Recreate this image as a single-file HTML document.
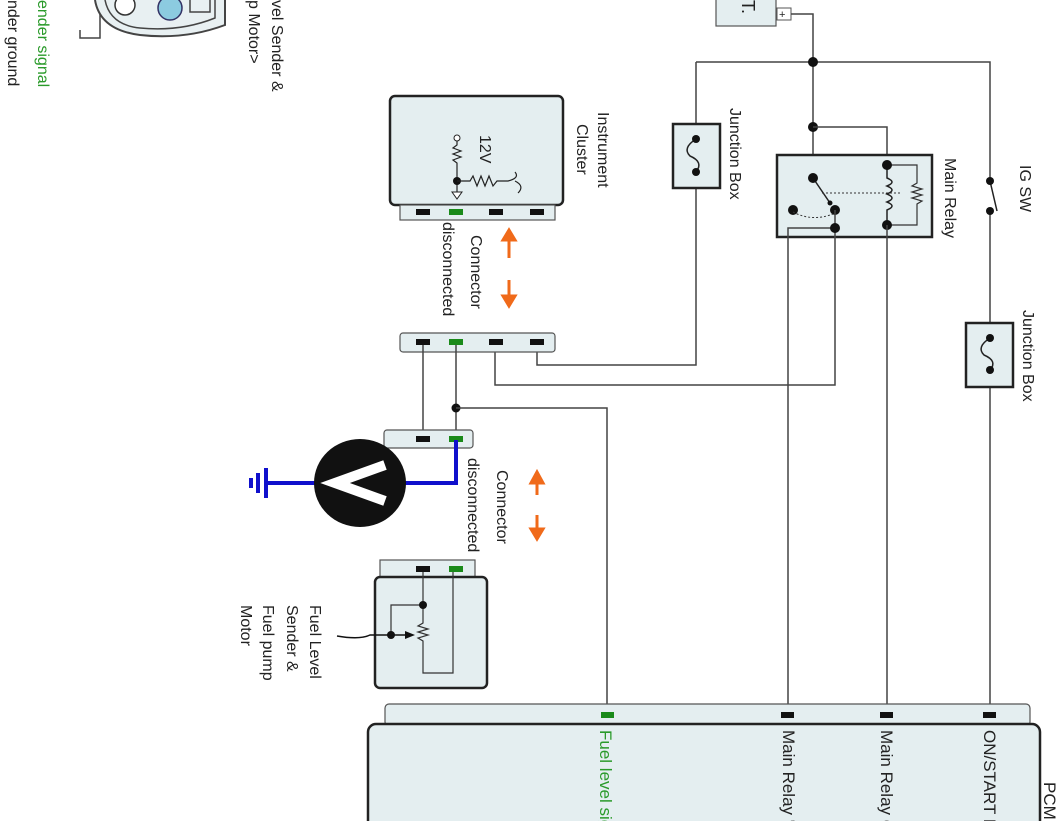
<!DOCTYPE html>
<html><head><meta charset="utf-8"><style>
html,body{margin:0;padding:0;background:#fff;}
svg{display:block;font-family:"Liberation Sans",sans-serif;}
</style></head><body>
<svg width="1062" height="821" viewBox="0 0 1062 821" xmlns="http://www.w3.org/2000/svg">
<defs>
<style>
.w{stroke:#444;stroke-width:1.5;fill:none}
.box{fill:#e4eef0;stroke:#222;stroke-width:2.5}
.strip{fill:#e4eef0;stroke:#555;stroke-width:1.2}
.t{font-size:16px;fill:#222}
.p{font-size:17px;fill:#222}
</style>
</defs>

<!-- top-left connector picture -->
<path d="M80,30 L80,38 L100,38 L100,0" class="w" stroke="#555"/>
<path d="M95,0 Q100,30 140,35 Q185,40 225,25 L225,0" fill="#e8f0f2" stroke="#444" stroke-width="2"/>
<path d="M105,0 Q110,25 140,28 Q180,32 215,18 L215,0" fill="none" stroke="#444" stroke-width="1.5"/>
<circle cx="125" cy="5" r="10" fill="#fff" stroke="#333" stroke-width="1.5"/>
<circle cx="170" cy="8" r="12" fill="#8ccbe0" stroke="#336" stroke-width="1.5"/>
<path d="M190,0 L190,12 L210,12 L210,0" fill="none" stroke="#444" stroke-width="1.5"/>
<text transform="translate(38,0) rotate(90)" font-size="16" fill="#2a9a2a">ender signal</text>
<text transform="translate(8,0) rotate(90)" class="t">nder ground</text>
<text transform="translate(272,0) rotate(90)" class="t">vel Sender &amp;</text>
<text transform="translate(249,0) rotate(90)" class="t">p Motor&gt;</text>

<!-- battery -->
<rect x="716" y="-5" width="60" height="31" class="strip" stroke="#666"/>
<text transform="translate(742,0) rotate(90)" font-size="18" fill="#222">T.</text>
<rect x="777" y="8" width="14" height="12" fill="#fff" stroke="#555" stroke-width="1"/>
<text x="779" y="18" font-size="11" fill="#222">+</text>
<path d="M791,14 L813,14 L813,178" class="w"/>

<!-- top horizontal bus -->
<path d="M696,62 L990,62 L990,181" class="w"/>
<path d="M990,211 L990,715" class="w"/>
<line x1="990" y1="181" x2="997" y2="211" stroke="#222" stroke-width="1.5"/>
<circle cx="990" cy="181" r="4" fill="#111"/>
<circle cx="990" cy="211" r="4" fill="#111"/>
<text transform="translate(1020,165) rotate(90)" class="t">IG SW</text>

<circle cx="813" cy="62" r="5" fill="#111"/>
<circle cx="813" cy="127" r="5" fill="#111"/>
<path d="M813,127 L887,127 L887,165" class="w"/>

<!-- left junction box -->
<path d="M696,62 L696,365 L537,365 L537,345" class="w"/>
<rect x="673" y="124" width="47" height="64" class="box" stroke-width="2"/>
<path d="M696,139 Q682,148 690,156 Q704,162 696,172" fill="none" stroke="#222" stroke-width="1.5"/>
<circle cx="696" cy="139" r="4" fill="#111"/>
<circle cx="696" cy="172" r="4" fill="#111"/>
<text transform="translate(730,108) rotate(90)" class="t">Junction Box</text>

<!-- right junction box -->
<rect x="966" y="323" width="47" height="64" class="box" stroke-width="2"/>
<path d="M990,338 Q976,347 984,355 Q998,361 990,370" fill="none" stroke="#222" stroke-width="1.5"/>
<circle cx="990" cy="338" r="4" fill="#111"/>
<circle cx="990" cy="370" r="4" fill="#111"/>
<text transform="translate(1023,310) rotate(90)" class="t">Junction Box</text>

<!-- main relay -->
<rect x="777" y="155" width="155" height="82" class="box"/>
<text transform="translate(945,158) rotate(90)" class="t">Main Relay</text>
<line x1="813" y1="178" x2="830" y2="203" stroke="#222" stroke-width="1.5"/>
<circle cx="813" cy="178" r="5" fill="#111"/>
<circle cx="830" cy="203" r="2.5" fill="#111"/>
<circle cx="835" cy="210" r="5" fill="#111"/>
<circle cx="793" cy="210" r="5" fill="#111"/>
<path d="M793,212 Q812,222 833,214" fill="none" stroke="#333" stroke-width="1" stroke-dasharray="2,2"/>
<line x1="822" y1="193" x2="900" y2="193" stroke="#333" stroke-width="1" stroke-dasharray="2,2"/>
<path d="M887,165 L887,178 Q897,182 887,186 Q897,190 887,194 Q897,198 887,202 Q897,206 887,210 L887,225" fill="none" stroke="#222" stroke-width="1.5"/>
<path d="M887,165 L917,165 L917,183 L912,186 L922,189 L912,192 L922,195 L912,198 L922,201 L917,204 L917,225 L887,225" fill="none" stroke="#333" stroke-width="1.2"/>
<circle cx="887" cy="165" r="5" fill="#111"/>
<circle cx="887" cy="225" r="5" fill="#111"/>
<path d="M835,210 L835,385 L495,385 L495,345" class="w"/>
<path d="M788,715 L788,228 L835,228" class="w"/>
<circle cx="835" cy="228" r="5" fill="#111"/>
<path d="M887,225 L887,715" class="w"/>

<!-- instrument cluster -->
<rect x="390" y="96" width="173" height="109" rx="5" class="box"/>
<text transform="translate(598,112) rotate(90)" class="t">Instrument</text>
<text transform="translate(577,124) rotate(90)" class="t">Cluster</text>
<text transform="translate(480,135) rotate(90)" class="t">12V</text>
<circle cx="457" cy="138" r="3" fill="#fff" stroke="#222"/>
<path d="M457,141 L457,145 L453,148 L461,151 L453,154 L461,157 L453,160 L457,163 L457,192" fill="none" stroke="#222" stroke-width="1.2"/>
<path d="M452,192 L462,192 L457,199 Z" fill="#fff" stroke="#222"/>
<circle cx="457" cy="181" r="4" fill="#111"/>
<path d="M457,181 L470,181 L473,176 L477,186 L481,176 L485,186 L489,176 L493,186 L497,181 L508,181 Q520,178 515,172 M515,181 Q525,186 518,193" fill="none" stroke="#222" stroke-width="1.2"/>
<rect x="400" y="205" width="155" height="15" class="strip"/>
<rect x="416" y="209" width="14" height="6" fill="#111"/>
<rect x="449" y="209" width="14" height="6" fill="#1a8a1a"/>
<rect x="489" y="209" width="14" height="6" fill="#111"/>
<rect x="530" y="209" width="14" height="6" fill="#111"/>

<!-- orange arrows upper -->
<path d="M509,258 L509,235 M503,240 L509,230 L515,240 Z" stroke="#f06a1a" stroke-width="3" fill="#f06a1a"/>
<path d="M509,280 L509,300 M503,296 L509,306 L515,296 Z" stroke="#f06a1a" stroke-width="3" fill="#f06a1a"/>
<text transform="translate(471,235) rotate(90)" class="t">Connector</text>
<text transform="translate(443,222) rotate(90)" class="t">disconnected</text>

<!-- middle connector -->
<rect x="400" y="333" width="155" height="19" rx="3" class="strip"/>
<rect x="416" y="339" width="14" height="6" fill="#111"/>
<rect x="449" y="339" width="14" height="6" fill="#1a8a1a"/>
<rect x="489" y="339" width="14" height="6" fill="#111"/>
<rect x="530" y="339" width="14" height="6" fill="#111"/>
<path d="M423,345 L423,440" class="w"/>
<path d="M456,345 L456,440" class="w"/>
<circle cx="456" cy="408" r="4.5" fill="#111"/>
<path d="M456,408 L607,408 L607,715" class="w"/>

<!-- lower connector -->
<rect x="384" y="430" width="89" height="18" rx="3" class="strip"/>
<rect x="416" y="436" width="14" height="6" fill="#111"/>
<rect x="449" y="436" width="14" height="6" fill="#1a8a1a"/>
<path d="M456,440 L456,483 L400,483" stroke="#1010cc" stroke-width="4" fill="none"/>
<path d="M318,483 L266,483" stroke="#1010cc" stroke-width="4" fill="none"/>
<path d="M266,468 L266,498 M258,473 L258,493 M251,478 L251,488" stroke="#1010cc" stroke-width="4" fill="none"/>
<ellipse cx="360" cy="483" rx="46" ry="44" fill="#111"/>
<path d="M385,465 L335,483 L385,501" fill="none" stroke="#fff" stroke-width="10" stroke-linejoin="miter"/>

<!-- orange arrows lower -->
<path d="M537,495 L537,478 M531,483 L537,472 L543,483 Z" stroke="#f06a1a" stroke-width="3" fill="#f06a1a"/>
<path d="M537,515 L537,533 M531,529 L537,539 L543,529 Z" stroke="#f06a1a" stroke-width="3" fill="#f06a1a"/>
<text transform="translate(497,470) rotate(90)" class="t">Connector</text>
<text transform="translate(468,458) rotate(90)" class="t">disconnected</text>

<!-- fuel sender -->
<rect x="380" y="560" width="95" height="20" class="strip"/>
<rect x="416" y="566" width="14" height="6" fill="#111"/>
<rect x="449" y="566" width="14" height="6" fill="#1a8a1a"/>
<rect x="375" y="577" width="112" height="111" rx="5" class="box"/>
<path d="M423,572 L423,615 L423,623 L418,626 L428,629 L418,632 L428,635 L418,638 L423,641 L423,673 L453,673 L453,572" fill="none" stroke="#333" stroke-width="1.2"/>
<path d="M423,605 L391,605 L391,635" fill="none" stroke="#333" stroke-width="1.2"/>
<circle cx="423" cy="605" r="4" fill="#111"/>
<circle cx="391" cy="635" r="4" fill="#111"/>
<path d="M337,636 Q360,640 370,635 L412,635" fill="none" stroke="#111" stroke-width="1.5"/>
<path d="M405,631 L415,635 L405,639 Z" fill="#111"/>
<text transform="translate(310,605) rotate(90)" class="t">Fuel Level</text>
<text transform="translate(287,605) rotate(90)" class="t">Sender &amp;</text>
<text transform="translate(263,605) rotate(90)" class="t">Fuel pump</text>
<text transform="translate(241,605) rotate(90)" class="t">Motor</text>

<!-- PCM -->
<rect x="385" y="704" width="645" height="22" rx="4" class="strip"/>
<rect x="368" y="724" width="672" height="110" rx="8" class="box"/>
<rect x="601" y="712" width="13" height="6" fill="#1a8a1a"/>
<rect x="781" y="712" width="13" height="6" fill="#111"/>
<rect x="880" y="712" width="13" height="6" fill="#111"/>
<rect x="983" y="712" width="13" height="6" fill="#111"/>
<text transform="translate(1044,782) rotate(90)" class="p">PCM</text>
<text transform="translate(984,730) rotate(90)" class="p">ON/START In</text>
<text transform="translate(881,730) rotate(90)" class="p">Main Relay C</text>
<text transform="translate(783,730) rotate(90)" class="p">Main Relay 'O</text>
<text transform="translate(600,730) rotate(90)" font-size="17" fill="#2a9a2a">Fuel level sig</text>
</svg>
</body></html>
